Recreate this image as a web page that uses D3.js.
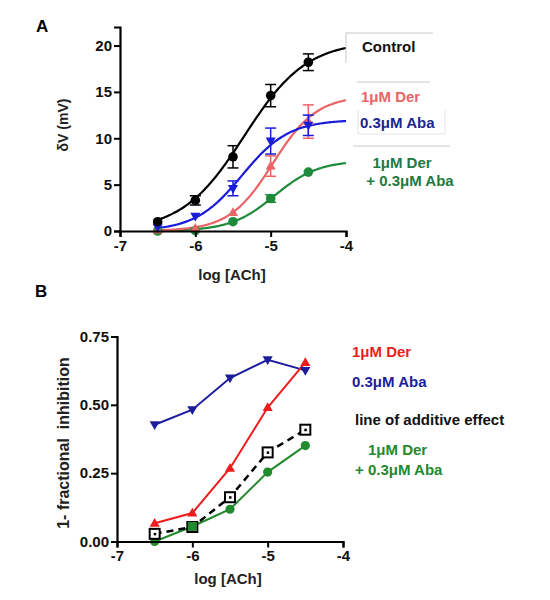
<!DOCTYPE html>
<html><head><meta charset="utf-8">
<script src="https://cdn.jsdelivr.net/npm/d3@7"></script>
<style>body{margin:0;background:#fff}svg{display:block}text{font-family:"Liberation Sans",Arial,sans-serif}</style>
</head><body>
<script>
// ---- Data ----
const logACh = [-6.5, -6, -5.5, -5, -4.5];
const xTicks = [-7, -6, -5, -4];

// Panel A: mean dV (mV) and SEM
const controlMean = [1.0, 3.3, 8.0, 14.6, 18.2];
const controlErr  = [0.25, 0.5, 1.2, 1.2, 0.9];
const derMean     = [0.1, 0.3, 2.0, 7.0, 11.8];
const derErr      = [0.1, 0.2, 0.3, 1.1, 1.8];
const abaMean     = [0.4, 1.6, 4.6, 9.7, 11.4];
const abaErr      = [0.2, 0.3, 0.8, 1.4, 1.1];
const comboMean   = [0.0, 0.05, 1.0, 3.5, 6.35];
const comboErr    = [0.1, 0.1, 0.2, 0.4, 0.3];
const yTicksA = [0, 5, 10, 15, 20];

// Panel A fitted sigmoid curves (top, logEC50, Hill slope)
const fitTop    = [20.5, 14.6, 12.0, 7.6];
const fitLogEC  = [-5.35, -4.97, -5.38, -4.95];
const fitHill   = [1.05, 1.5, 1.4, 1.5];

// Panel B: 1 - fractional inhibition
const derB      = [0.067, 0.104, 0.268, 0.490, 0.655];
const abaB      = [0.427, 0.482, 0.598, 0.665, 0.626];
const additiveB = [0.028, 0.053, 0.162, 0.326, 0.409];
const comboB    = [0.000, 0.055, 0.118, 0.254, 0.351];
const yTicksB = [0, 0.25, 0.5, 0.75];

// ---- Drawing ----
const W = 550, H = 600;
const svg = d3.select("body").append("svg").attr("width", W).attr("height", H);
svg.append("rect").attr("width", W).attr("height", H).attr("fill", "#fff");

const colA = {control: "#000000", der: "#ea6466", aba: "#1b1bdc", combo: "#1f8a3c"};
const colB = {der: "#ee1c1c", aba: "#1c1c9c", add: "#000000", combo: "#228a2e"};

function axes(g, x, y, yTicks, yFmt) {
  const xa = g.append("g").attr("transform", `translate(0,${y.range()[0]})`)
    .call(d3.axisBottom(x).tickValues(xTicks).tickFormat(d3.format("d")).tickSize(6).tickPadding(3));
  const ya = g.append("g").attr("transform", `translate(${x.range()[0]},0)`)
    .call(d3.axisLeft(y).tickValues(yTicks).tickFormat(yFmt).tickSize(6).tickPadding(2));
  [xa, ya].forEach(a => {
    a.attr("font-size", null).attr("font-family", null);
    a.select(".domain").attr("stroke", "#000").attr("stroke-width", 2.2);
    a.selectAll(".tick line").attr("stroke", "#000").attr("stroke-width", 2);
    a.selectAll(".tick text").attr("fill", "#111").attr("font-size", 15).attr("font-weight", "bold");
  });
  xa.selectAll(".tick text").text(d => d < 0 ? "-" + Math.abs(d) : d);
}

function marker(g, type, cx, cy, color, s) {
  if (type === "circle") {
    g.append("circle").attr("cx", cx).attr("cy", cy).attr("r", s).attr("fill", color);
  } else if (type === "up") {
    g.append("path").attr("d", `M${cx},${cy - s * 1.15}L${cx + s * 1.1},${cy + s * 0.75}L${cx - s * 1.1},${cy + s * 0.75}Z`).attr("fill", color);
  } else if (type === "down") {
    g.append("path").attr("d", `M${cx},${cy + s * 1.15}L${cx + s * 1.1},${cy - s * 0.75}L${cx - s * 1.1},${cy - s * 0.75}Z`).attr("fill", color);
  } else if (type === "square") {
    g.append("rect").attr("x", cx - s).attr("y", cy - s).attr("width", 2 * s).attr("height", 2 * s)
      .attr("fill", "#fff").attr("stroke", color).attr("stroke-width", 2);
    g.append("rect").attr("x", cx - 1).attr("y", cy - 1).attr("width", 2.5).attr("height", 2.5).attr("fill", color);
  } else if (type === "fsquare") {
    g.append("rect").attr("x", cx - s).attr("y", cy - s).attr("width", 2 * s).attr("height", 2 * s).attr("fill", color);
  }
}

// ---------- Panel A ----------
const xA = d3.scaleLinear().domain([-7, -4]).range([120, 346]);
const yA = d3.scaleLinear().domain([0, 22]).range([231, 27]);
const gA = svg.append("g");

svg.append("text").attr("x", 36).attr("y", 32).attr("font-size", 17).attr("font-weight", "bold").text("A");
svg.append("text").attr("transform", `translate(68,125) rotate(-90)`).attr("text-anchor", "middle")
  .attr("font-size", 14).attr("font-weight", "bold").attr("fill", "#222").text("δV (mV)");
svg.append("text").attr("x", 232).attr("y", 280).attr("text-anchor", "middle")
  .attr("font-size", 15).attr("font-weight", "bold").attr("fill", "#222").text("log [ACh]");

const seriesA = [
  {mean: comboMean, err: comboErr, col: colA.combo, m: "circle", fit: 3},
  {mean: derMean, err: derErr, col: colA.der, m: "up", fit: 1},
  {mean: abaMean, err: abaErr, col: colA.aba, m: "down", fit: 2},
  {mean: controlMean, err: controlErr, col: colA.control, m: "circle", fit: 0}
];
const xs = d3.range(-6.5, -3.999, 0.02);
const curveLine = d3.line().x(d => xA(d[0])).y(d => yA(d[1])).curve(d3.curveBasis);
seriesA.forEach(s => {
  const i = s.fit;
  const pts = xs.map(x => [x, fitTop[i] / (1 + Math.pow(10, fitHill[i] * (fitLogEC[i] - x)))]);
  gA.append("path").attr("d", curveLine(pts)).attr("fill", "none").attr("stroke", s.col).attr("stroke-width", 2.2);
});
seriesA.forEach(s => {
  s.mean.forEach((v, j) => {
    const cx = xA(logACh[j]);
    const e = s.err[j];
    if (e > 0.3) {
      const t = yA(v + e), b = yA(v - e);
      gA.append("line").attr("x1", cx).attr("x2", cx).attr("y1", t).attr("y2", b).attr("stroke", s.col).attr("stroke-width", 1.5);
      [t, b].forEach(yy => gA.append("line").attr("x1", cx - 5.5).attr("x2", cx + 5.5).attr("y1", yy).attr("y2", yy).attr("stroke", s.col).attr("stroke-width", 1.5));
    }
    marker(gA, s.m, cx, yA(v), s.col, s.m === "circle" ? 4.8 : 4.6);
  });
});
axes(gA, xA, yA, yTicksA, d3.format("d"));

// Legend A
const legA = svg.append("g");
const gray = "#c8c8c8";
legA.append("path").attr("d", "M346,63V33H433").attr("fill", "none").attr("stroke", gray).attr("stroke-width", 1);
legA.append("path").attr("d", "M357,82H430").attr("fill", "none").attr("stroke", gray).attr("stroke-width", 1);
legA.append("path").attr("d", "M358,110V134H445V110").attr("fill", "none").attr("stroke", "#e4e4e4").attr("stroke-width", 1);
legA.append("path").attr("d", "M353,146H450").attr("fill", "none").attr("stroke", gray).attr("stroke-width", 1);
const lt = (g, x, y, t, c, anchor) => g.append("text").attr("x", x).attr("y", y).attr("font-size", 15)
  .attr("font-weight", "bold").attr("fill", c).attr("text-anchor", anchor || "start").text(t);
lt(legA, 362, 52, "Control", "#111");
lt(legA, 361, 102, "1μM Der", colA.der);
lt(legA, 360, 128, "0.3μM Aba", "#1a2590");
lt(legA, 402, 168, "1μM Der", "#1e7a40", "middle");
lt(legA, 410, 186, "+ 0.3μM Aba", "#1e7a40", "middle");

// ---------- Panel B ----------
const xB = d3.scaleLinear().domain([-7, -4]).range([117, 343]);
const yB = d3.scaleLinear().domain([0, 0.75]).range([541.5, 336.5]);
const gB = svg.append("g");

svg.append("text").attr("x", 35).attr("y", 297).attr("font-size", 17).attr("font-weight", "bold").text("B");
svg.append("text").attr("transform", `translate(69,443) rotate(-90)`).attr("text-anchor", "middle")
  .attr("font-size", 16).attr("font-weight", "bold").attr("fill", "#222").attr("xml:space", "preserve")
  .text("1- fractional  inhibition");
svg.append("text").attr("x", 228).attr("y", 584).attr("text-anchor", "middle")
  .attr("font-size", 15).attr("font-weight", "bold").attr("fill", "#222").text("log [ACh]");

const lineB = d3.line().x((d, j) => xB(logACh[j])).y(d => yB(d));
const seriesB = [
  {v: abaB, col: colB.aba, m: "down", dash: null},
  {v: derB, col: colB.der, m: "up", dash: null},
  {v: comboB, col: colB.combo, m: "circle", dash: null},
  {v: additiveB, col: colB.add, m: "square", dash: "7,5"}
];
seriesB.forEach(s => {
  gB.append("path").attr("d", lineB(s.v)).attr("fill", "none").attr("stroke", s.col)
    .attr("stroke-width", s.dash ? 2.5 : 2).attr("stroke-dasharray", s.dash);
});
seriesB.forEach(s => {
  s.v.forEach((v, j) => {
    const cx = xB(logACh[j]);
    if (s.m === "square" && j === 1) {
      marker(gB, "square", cx, yB(v), "#000", 5);
      marker(gB, "fsquare", cx, yB(comboB[j]), colB.combo, 4.5);
      return;
    }
    marker(gB, s.m, cx, yB(v), s.col, s.m === "square" ? 5 : 4.6);
  });
});
axes(gB, xB, yB, yTicksB, d3.format(".2f"));

// Legend B
const legB = svg.append("g");
lt(legB, 352, 357, "1μM Der", colB.der);
lt(legB, 352, 387, "0.3μM Aba", colB.aba);
lt(legB, 355, 425, "line of additive effect", "#111");
lt(legB, 368, 455, "1μM Der", colB.combo);
lt(legB, 355, 475, "+ 0.3μM Aba", colB.combo);
</script>
</body></html>
